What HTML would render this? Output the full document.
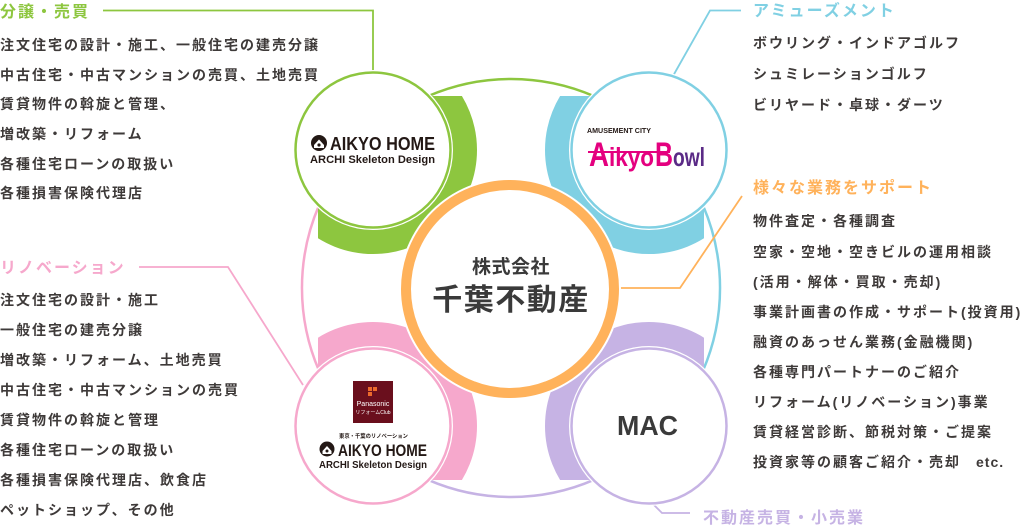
<!DOCTYPE html>
<html><head><meta charset="utf-8"><style>
html,body{margin:0;padding:0;background:#fff;}
body{width:1020px;height:527px;overflow:hidden;}
svg{display:block;}
.t{font-family:"Liberation Sans","Noto Sans CJK JP",sans-serif;}
.body{font-size:14px;fill:#3e3a39;letter-spacing:2px;font-weight:bold;}
.ttl{font-size:16px;font-weight:bold;letter-spacing:2px;}
</style></head><body>
<svg width="1020" height="527" viewBox="0 0 1020 527" xmlns="http://www.w3.org/2000/svg">
<defs>
<clipPath id="cg"><rect x="318" y="96" width="220" height="220"/></clipPath>
<clipPath id="cb"><rect x="484" y="96" width="220" height="220"/></clipPath>
<clipPath id="cp"><rect x="318" y="290" width="220" height="190"/></clipPath>
<clipPath id="cu"><rect x="484" y="290" width="220" height="190"/></clipPath>
</defs>

<!-- big circle arcs -->
<g fill="none" stroke-width="2.5">
<path d="M363.2,140.2 A209,209 0 0 1 658.8,140.2" stroke="#8dc63f"/>
<path d="M658.8,140.2 A209,209 0 0 1 658.8,435.8" stroke="#80d0e3"/>
<path d="M658.8,435.8 A209,209 0 0 1 363.2,435.8" stroke="#c6b3e4"/>
<path d="M363.2,435.8 A209,209 0 0 1 363.2,140.2" stroke="#f6a8cc"/>
</g>

<!-- connectors -->
<g fill="none" stroke-width="1.8">
<polyline points="103,10.5 373,10.5 373,73" stroke="#8dc63f"/>
<polyline points="741,10.5 710,10.5 673,76" stroke="#80d0e3"/>
<polyline points="139,267 228,267 303,385" stroke="#f6a8cc"/>
<polyline points="653,504 662,513 690,513" stroke="#c6b3e4"/>
<polyline points="618,288 680,288 742,196" stroke="#ffb25b"/>
</g>

<!-- bands -->
<g fill="none" stroke-width="26">
<circle cx="373" cy="150" r="91" stroke="#8dc63f" clip-path="url(#cg)"/>
<circle cx="649" cy="150" r="91" stroke="#80d0e3" clip-path="url(#cb)"/>
<circle cx="373" cy="426" r="91" stroke="#f6a8cc" clip-path="url(#cp)"/>
<circle cx="649" cy="426" r="91" stroke="#c6b3e4" clip-path="url(#cu)"/>
</g>

<!-- small white circles -->
<g fill="#fff">
<circle cx="373" cy="150" r="80"/>
<circle cx="649" cy="150" r="80"/>
<circle cx="373" cy="426" r="80"/>
<circle cx="649" cy="426" r="80"/>
</g>
<g fill="none" stroke-width="2.5">
<circle cx="373" cy="150" r="77.5" stroke="#8dc63f"/>
<circle cx="649" cy="150" r="77.5" stroke="#80d0e3"/>
<circle cx="373" cy="426" r="77.5" stroke="#f6a8cc"/>
<circle cx="649" cy="426" r="77.5" stroke="#c6b3e4"/>
</g>

<!-- center -->
<circle cx="510" cy="289" r="111" fill="#fff"/>
<circle cx="510" cy="289" r="104" fill="#fff" stroke="#ffb25b" stroke-width="10"/>
<text class="t" x="511" y="273" text-anchor="middle" font-size="19" font-weight="bold" fill="#3a3a3a" letter-spacing="0.5">株式会社</text>
<text class="t" x="511" y="310" text-anchor="middle" font-size="30" font-weight="bold" fill="#3a3a3a" letter-spacing="1.5">千葉不動産</text>

<!-- green logo -->
<circle cx="319" cy="143" r="8" fill="#231815"/>
<path d="M314,145 L319,139.5 L324,145 L324,148 L314,148 Z" fill="#fff"/>
<circle cx="319" cy="145" r="1.6" fill="#231815"/>
<text class="t" x="330" y="150" font-size="18" font-weight="bold" fill="#231815" textLength="105" lengthAdjust="spacingAndGlyphs">AIKYO HOME</text>
<text class="t" x="310" y="163" font-size="11" font-weight="bold" fill="#231815" textLength="125" lengthAdjust="spacingAndGlyphs">ARCHI Skeleton Design</text>

<!-- blue logo -->
<text class="t" x="587" y="133" font-size="7" font-weight="bold" fill="#231815" textLength="64" lengthAdjust="spacingAndGlyphs">AMUSEMENT CITY</text>
<text class="t" x="589" y="166" font-size="34" font-weight="bold" fill="#e4007f" textLength="20" lengthAdjust="spacingAndGlyphs">A</text>
<text class="t" x="609" y="166" font-size="26" font-weight="bold" fill="#e4007f" textLength="45" lengthAdjust="spacingAndGlyphs">ikyo</text>
<text class="t" x="655" y="166" font-size="34" font-weight="bold" fill="#e4007f" textLength="18" lengthAdjust="spacingAndGlyphs">B</text>
<text class="t" x="673" y="166" font-size="26" font-weight="bold" fill="#5a2a86" textLength="32" lengthAdjust="spacingAndGlyphs">owl</text>
<line x1="588" y1="152" x2="670" y2="152" stroke="#e4007f" stroke-width="2"/>

<!-- pink logo -->
<rect x="353" y="381" width="40" height="42" fill="#6a0f1d"/>
<rect x="368" y="387" width="4" height="4" fill="#ec6a2c"/>
<rect x="373" y="387" width="4" height="4" fill="#ec6a2c"/>
<rect x="368" y="392" width="4" height="4" fill="#ec6a2c"/>
<text class="t" x="373" y="406" text-anchor="middle" font-size="7" fill="#fff">Panasonic</text>
<text class="t" x="373" y="414" text-anchor="middle" font-size="5" fill="#fff">リフォームClub</text>
<text class="t" x="339" y="438" font-size="5.5" font-weight="bold" fill="#231815" textLength="69" lengthAdjust="spacingAndGlyphs">東京・千葉のリノベーション</text>
<circle cx="327" cy="449" r="7.5" fill="#231815"/>
<path d="M322.5,451 L327,446 L331.5,451 L331.5,454 L322.5,454 Z" fill="#fff"/>
<circle cx="327" cy="451" r="1.5" fill="#231815"/>
<text class="t" x="338" y="456" font-size="17" font-weight="bold" fill="#231815" textLength="89" lengthAdjust="spacingAndGlyphs">AIKYO HOME</text>
<text class="t" x="319" y="468" font-size="10" font-weight="bold" fill="#231815" textLength="108" lengthAdjust="spacingAndGlyphs">ARCHI Skeleton Design</text>

<!-- MAC -->
<text class="t" x="617" y="435" font-size="28" font-weight="bold" fill="#3a3a3a" textLength="61" lengthAdjust="spacingAndGlyphs">MAC</text>

<!-- left green texts -->
<text class="t ttl" x="0" y="17" fill="#8dc63f">分譲・売買</text>
<g class="t body">
<text x="0" y="50">注文住宅の設計・施工、一般住宅の建売分譲</text>
<text x="0" y="80">中古住宅・中古マンションの売買、土地売買</text>
<text x="0" y="109">賃貸物件の斡旋と管理、</text>
<text x="0" y="139">増改築・リフォーム</text>
<text x="0" y="169">各種住宅ローンの取扱い</text>
<text x="0" y="198">各種損害保険代理店</text>
</g>

<!-- left pink texts -->
<text class="t ttl" x="0" y="273" fill="#f6a8cc">リノベーション</text>
<g class="t body">
<text x="0" y="305">注文住宅の設計・施工</text>
<text x="0" y="335">一般住宅の建売分譲</text>
<text x="0" y="365">増改築・リフォーム、土地売買</text>
<text x="0" y="395">中古住宅・中古マンションの売買</text>
<text x="0" y="425">賃貸物件の斡旋と管理</text>
<text x="0" y="455">各種住宅ローンの取扱い</text>
<text x="0" y="485">各種損害保険代理店、飲食店</text>
<text x="0" y="515">ペットショップ、その他</text>
</g>

<!-- right blue texts -->
<text class="t ttl" x="753" y="16" fill="#80d0e3">アミューズメント</text>
<g class="t body">
<text x="753" y="48">ボウリング・インドアゴルフ</text>
<text x="753" y="79">シュミレーションゴルフ</text>
<text x="753" y="110">ビリヤード・卓球・ダーツ</text>
</g>

<!-- right orange texts -->
<text class="t ttl" x="753" y="193" fill="#ffb25b">様々な業務をサポート</text>
<g class="t body">
<text x="753" y="226">物件査定・各種調査</text>
<text x="753" y="257">空家・空地・空きビルの運用相談</text>
<text x="753" y="287">(活用・解体・買取・売却)</text>
<text x="753" y="317">事業計画書の作成・サポート(投資用)</text>
<text x="753" y="347">融資のあっせん業務(金融機関)</text>
<text x="753" y="377">各種専門パートナーのご紹介</text>
<text x="753" y="407">リフォーム(リノベーション)事業</text>
<text x="753" y="437">賃貸経営診断、節税対策・ご提案</text>
<text x="753" y="467">投資家等の顧客ご紹介・売却</text>
<text x="976" y="467" letter-spacing="1">etc.</text>
</g>

<!-- purple label -->
<text class="t ttl" x="703" y="523" fill="#c6b3e4">不動産売買・小売業</text>
</svg>
</body></html>
